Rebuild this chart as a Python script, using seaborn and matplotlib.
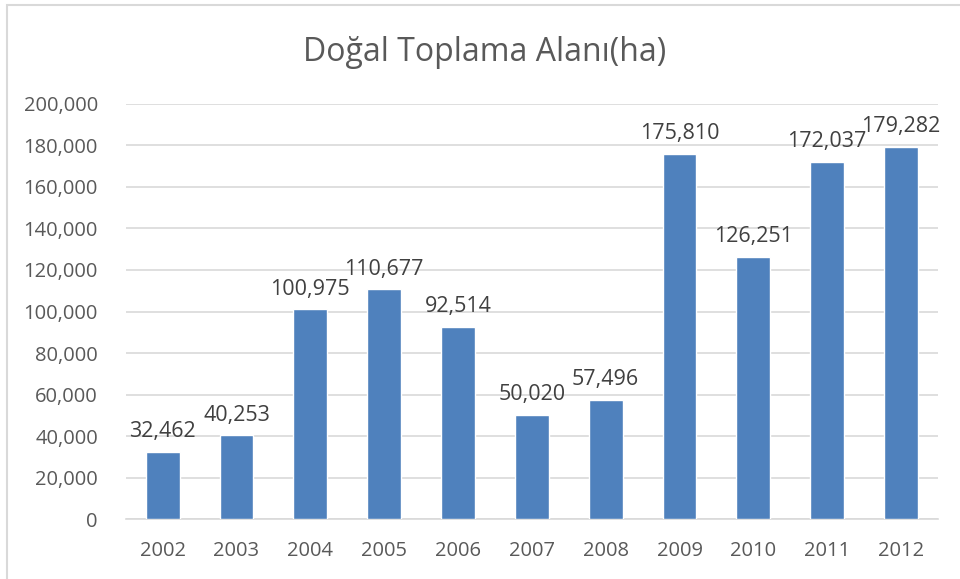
import numpy as np
import pandas as pd
import matplotlib.pyplot as plt
import seaborn as sns
from matplotlib.patches import Rectangle

years = ['2002', '2003', '2004', '2005', '2006', '2007', '2008', '2009', '2010', '2011', '2012']
area = [32462, 40253, 100975, 110677, 92514, 50020, 57496, 175810, 126251, 172037, 179282]

df = pd.DataFrame({'year': years, 'area': area})

sns.set_theme(style='white')
plt.rcParams['font.family'] = ['Open Sans', 'DejaVu Sans']
txt = '#595959'

fig = plt.figure(figsize=(9.6, 5.79), dpi=100)
ax = fig.add_axes([0.131, 0.1036, 0.846, 0.7168])

sns.barplot(data=df, x='year', y='area', color='#4F81BD', saturation=1, width=0.46, ax=ax, zorder=3)

ax.set_ylim(0, 200000)
ax.set_yticks(np.arange(0, 200001, 20000))
ax.set_yticklabels([f'{v:,}' for v in range(0, 200001, 20000)], color=txt, fontsize=14.5)
ax.set_xticklabels(years, color=txt, fontsize=14.5)
ax.tick_params(axis='x', pad=16, length=0)
ax.tick_params(axis='y', pad=20, length=0)
ax.set_xlabel('')
ax.set_ylabel('')
ax.yaxis.grid(True, color='#D9D9D9', linewidth=1.2, zorder=0)
ax.set_axisbelow(True)
for s in ['top', 'right', 'left']:
    ax.spines[s].set_visible(False)
ax.spines['bottom'].set_color('#D9D9D9')
ax.spines['bottom'].set_linewidth(1.2)

for i, v in enumerate(area):
    ax.annotate(f'{v:,}', (i, v), xytext=(0, 7), textcoords='offset points',
                ha='center', va='bottom', color='#404040', fontsize=15.5)

fig.text(0.505, 0.91, 'Doğal Toplama Alanı(ha)', ha='center', va='center', color=txt, fontsize=23)

fig.patches.append(Rectangle((7 / 960, -0.1), 1.2, 1.1 - 5 / 579, transform=fig.transFigure,
                             fill=False, edgecolor='#D9D9D9', linewidth=1.5))

fig.savefig('out.png', dpi=100)
